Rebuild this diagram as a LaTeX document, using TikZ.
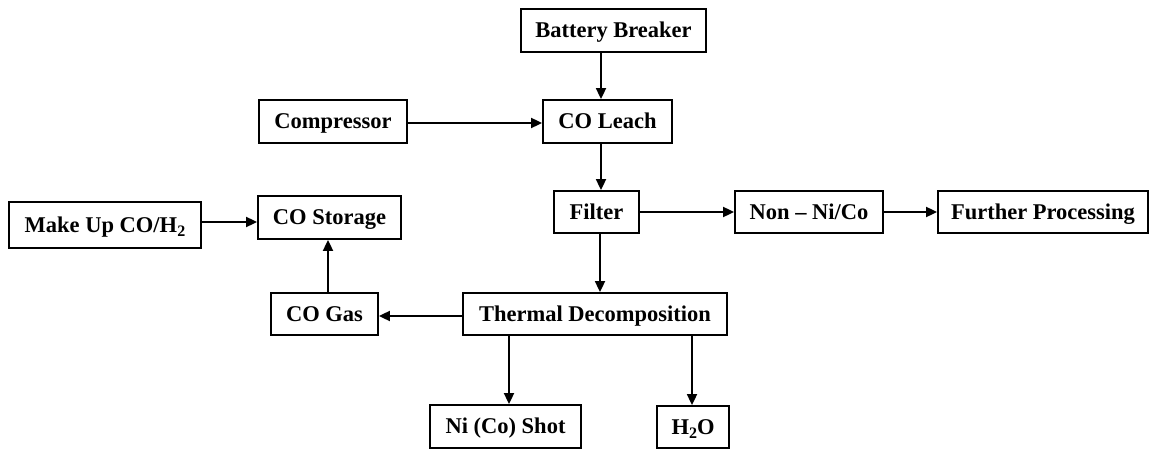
\documentclass[tikz,border=0pt]{standalone}
\usepackage{fontspec}
\setmainfont{Liberation Serif}
\usetikzlibrary{arrows.meta}
\newcommand{\lowsub}[1]{\raisebox{-0.4ex}{\fontsize{16}{16}\selectfont #1}}
\begin{document}
\begin{tikzpicture}[x=1pt,y=-1pt,
  box/.style={draw=black,line width=1.8pt,inner sep=0pt,align=center,
    text height=15pt,text depth=1pt,
    font=\fontsize{22.5}{25}\selectfont\bfseries},
  arr/.style={line width=1.8pt,-{Triangle[length=11pt,width=10pt]}}]
\useasboundingbox (0,0) rectangle (1153,449);
\node[box,minimum width=185pt,minimum height=43pt] (bb) at (613.5,30.5) {Battery Breaker};
\node[box,minimum width=129pt,minimum height=43pt] (leach) at (607.5,121.5) {CO Leach};
\node[box,minimum width=148pt,minimum height=43pt] (comp) at (333,121.5) {Compressor};
\node[box,minimum width=85pt,minimum height=42pt] (filter) at (596.5,212) {Filter};
\node[box,minimum width=148pt,minimum height=42pt] (non) at (809,212) {Non – Ni/Co};
\node[box,minimum width=210pt,minimum height=42pt] (further) at (1043,212) {Further Processing};
\node[box,minimum width=192pt,minimum height=46pt] (makeup) at (105,225) {Make Up CO/H\lowsub{2}};
\node[box,minimum width=143pt,minimum height=43pt] (storage) at (329.5,217.5) {CO Storage};
\node[box,minimum width=107pt,minimum height=42pt] (gas) at (324.5,314) {CO Gas};
\node[box,minimum width=264pt,minimum height=42pt] (thermal) at (595,314) {Thermal Decomposition};
\node[box,minimum width=151pt,minimum height=43pt] (ni) at (505.5,426.5) {Ni (Co) Shot};
\node[box,minimum width=72pt,minimum height=42pt] (h2o) at (693,427) {H\lowsub{2}O};
\coordinate (xa) at (601,0);
\coordinate (xb) at (600,0);
\coordinate (xc) at (328,0);
\coordinate (xd) at (509,0);
\coordinate (xe) at (692,0);
\coordinate (ya) at (0,222);
\coordinate (yb) at (0,123);
\coordinate (yc) at (0,316);
\draw[arr] (bb.south -| xa) -- (leach.north -| xa);
\draw[arr] (leach.south -| xa) -- (filter.north -| xa);
\draw[arr] (comp.east |- yb) -- (leach.west |- yb);
\draw[arr] (filter.east) -- (non.west);
\draw[arr] (non.east) -- (further.west);
\draw[arr] (makeup.east |- ya) -- (storage.west |- ya);
\draw[arr] (gas.north -| xc) -- (storage.south -| xc);
\draw[arr] (thermal.west |- yc) -- (gas.east |- yc);
\draw[arr] (filter.south -| xb) -- (thermal.north -| xb);
\draw[arr] (thermal.south -| xd) -- (ni.north -| xd);
\draw[arr] (thermal.south -| xe) -- (h2o.north -| xe);
\end{tikzpicture}
\end{document}
